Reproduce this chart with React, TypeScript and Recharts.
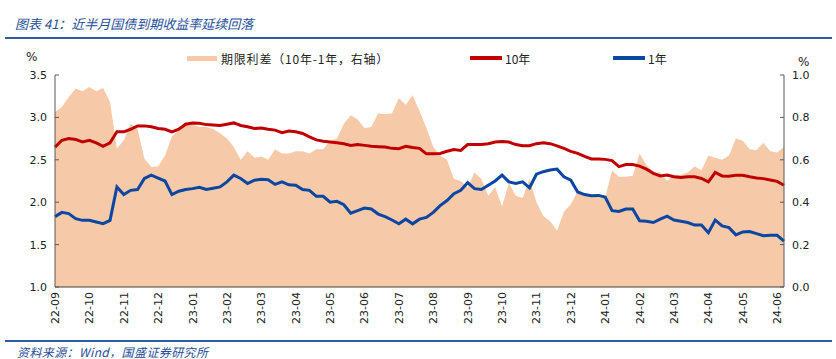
import React from "react"
import { ComposedChart, Area, Line, XAxis, YAxis } from "recharts"

// x tick labels, one per month start
const months = [
  "22-09", "22-10", "22-11", "22-12", "23-01", "23-02", "23-03", "23-04",
  "23-05", "23-06", "23-07", "23-08", "23-09", "23-10", "23-11", "23-12",
  "24-01", "24-02", "24-03", "24-04", "24-05", "24-06",
]

// samples every ~6 days (0.2 month) from 2022-09 onward
const STEP = 0.2

const y10 = [
  2.65, 2.73, 2.75, 2.74, 2.71, 2.73, 2.70, 2.66, 2.70, 2.83,
  2.83, 2.86, 2.90, 2.90, 2.89, 2.87, 2.86, 2.83, 2.86, 2.92,
  2.935, 2.93, 2.915, 2.91, 2.905, 2.92, 2.935, 2.905, 2.89, 2.87,
  2.875, 2.86, 2.85, 2.82, 2.84, 2.83, 2.81, 2.77, 2.735, 2.72,
  2.71, 2.70, 2.69, 2.67, 2.68, 2.67, 2.66, 2.655, 2.65, 2.635,
  2.63, 2.66, 2.645, 2.635, 2.57, 2.57, 2.575, 2.60, 2.62, 2.61,
  2.68, 2.68, 2.68, 2.69, 2.71, 2.715, 2.71, 2.68, 2.665, 2.665,
  2.69, 2.70, 2.69, 2.665, 2.635, 2.60, 2.575, 2.54, 2.51, 2.51,
  2.505, 2.49, 2.42, 2.445, 2.445, 2.425, 2.39, 2.34, 2.31, 2.32,
  2.30, 2.29, 2.30, 2.30, 2.28, 2.24, 2.35, 2.31, 2.305, 2.317,
  2.317, 2.30, 2.285, 2.278, 2.262, 2.246, 2.20,
]

const y1 = [
  1.83, 1.88, 1.865, 1.806, 1.786, 1.786, 1.767, 1.747, 1.786, 2.18,
  2.09, 2.14, 2.15, 2.28, 2.32, 2.285, 2.25, 2.09, 2.13, 2.15,
  2.16, 2.175, 2.15, 2.165, 2.18, 2.24, 2.32, 2.28, 2.22, 2.26,
  2.27, 2.265, 2.21, 2.24, 2.205, 2.20, 2.15, 2.14, 2.07, 2.07,
  2.00, 2.01, 1.97, 1.87, 1.90, 1.93, 1.92, 1.86, 1.83, 1.79,
  1.745, 1.80, 1.745, 1.80, 1.82, 1.88, 1.96, 2.02, 2.10, 2.14,
  2.23, 2.16, 2.15, 2.20, 2.25, 2.32, 2.24, 2.22, 2.24, 2.17,
  2.33, 2.36, 2.38, 2.39, 2.30, 2.26, 2.12, 2.09, 2.075, 2.08,
  2.06, 1.90, 1.89, 1.92, 1.92, 1.78, 1.775, 1.76, 1.80, 1.835,
  1.79, 1.775, 1.76, 1.73, 1.73, 1.64, 1.79, 1.72, 1.70, 1.615,
  1.65, 1.655, 1.63, 1.605, 1.61, 1.61, 1.54,
]

// 期限利差 (right axis)
const spread = [
  0.825, 0.849, 0.896, 0.935, 0.923, 0.943, 0.923, 0.939, 0.873, 0.653,
  0.692, 0.77, 0.747, 0.605, 0.566, 0.57, 0.62, 0.71, 0.74, 0.78,
  0.765, 0.755, 0.755, 0.745, 0.725, 0.70, 0.66, 0.60, 0.64, 0.61,
  0.615, 0.60, 0.65, 0.63, 0.63, 0.64, 0.64, 0.63, 0.65, 0.65,
  0.69, 0.70, 0.77, 0.81, 0.79, 0.75, 0.755, 0.82, 0.815, 0.82,
  0.89, 0.86, 0.905, 0.83, 0.75, 0.66, 0.62, 0.60, 0.51, 0.50,
  0.47, 0.54, 0.51, 0.43, 0.47, 0.38, 0.49, 0.43, 0.42, 0.51,
  0.40, 0.335, 0.31, 0.265, 0.355, 0.39, 0.45, 0.44, 0.425, 0.425,
  0.42, 0.55, 0.52, 0.52, 0.525, 0.63, 0.575, 0.54, 0.54, 0.50,
  0.53, 0.53, 0.54, 0.57, 0.55, 0.62, 0.61, 0.60, 0.62, 0.70,
  0.69, 0.65, 0.645, 0.68, 0.64, 0.635, 0.66,
]

const leftTicks = [1.0, 1.5, 2.0, 2.5, 3.0, 3.5]
const rightTicks = [0, 0.1, 0.2, 0.3, 0.4, 0.5, 0.6, 0.7, 0.8, 0.9, 1.0]

const data = y10.map((v, i) => ({
  t: +(i * STEP).toFixed(2),
  y10: v,
  y1: y1[i],
  spread: spread[i],
}))

const RED = "#C00000"
const BLUE = "#0B47A1"
const PEACH = "#F6C9A9"
const NAVY = "#1F4E9A"
const AXIS = "#595959"
const NUM_FONT = "'DejaVu Sans', Verdana, sans-serif"
const CJK_FONT = "'Noto Sans CJK SC', sans-serif"

const LeftTick = (p: any) => (
  <g>
    <line x1={p.x + 8} x2={p.x + 12} y1={p.y} y2={p.y} stroke={AXIS} />
    <text x={p.x} y={p.y} dy={4} textAnchor="end" fontSize={11} fill="#222" fontFamily={NUM_FONT}>
      {Number(p.payload.value).toFixed(1)}
    </text>
  </g>
)

const RightTick = (p: any) => (
  <g>
    <line x1={p.x - 8} x2={p.x - 12} y1={p.y} y2={p.y} stroke={AXIS} />
    <text x={p.x} y={p.y} dy={4} textAnchor="start" fontSize={11} fill="#222" fontFamily={NUM_FONT}>
      {Number(p.payload.value).toFixed(1)}
    </text>
  </g>
)

const MonthTick = (p: any) => (
  <text
    x={p.x}
    y={p.y}
    dy={4}
    transform={`rotate(-90 ${p.x} ${p.y})`}
    textAnchor="end"
    fontSize={11}
    fill="#222"
    fontFamily={NUM_FONT}
  >
    {months[Math.round(p.payload.value)]}
  </text>
)

export default function App() {
  return (
    <div
      style={{
        position: "absolute",
        left: 0,
        top: 0,
        width: 836,
        height: 359,
        background: "#fff",
        overflow: "hidden",
      }}
    >
      {/* title */}
      <div
        style={{
          position: "absolute",
          left: 15,
          top: 14,
          fontSize: 13,
          fontStyle: "italic",
          color: NAVY,
          fontFamily: CJK_FONT,
          whiteSpace: "nowrap",
        }}
      >
        图表 41：近半月国债到期收益率延续回落
      </div>
      <div style={{ position: "absolute", left: 5, top: 37, width: 827, height: 2, background: "#2E5CA8" }} />

      <ComposedChart
        width={836}
        height={359}
        data={data}
        margin={{ top: 75, right: 10, bottom: 12, left: 10 }}
      >
        <XAxis
          dataKey="t"
          type="number"
          domain={[0, 21.2]}
          ticks={months.map((_, i) => i)}
          interval={0}
          height={60}
          tickSize={0}
          tickMargin={5}
          tick={<MonthTick />}
          axisLine={{ stroke: "#404040" }}
        />
        <YAxis
          yAxisId="left"
          orientation="left"
          domain={[1.0, 3.5]}
          ticks={leftTicks}
          width={45}
          tickSize={0}
          tickMargin={8}
          tick={<LeftTick />}
          axisLine={{ stroke: AXIS }}
        />
        <YAxis
          yAxisId="right"
          orientation="right"
          domain={[0, 1]}
          ticks={rightTicks}
          width={42}
          tickSize={0}
          tickMargin={8}
          tick={<RightTick />}
          axisLine={{ stroke: AXIS }}
        />
        <Area
          yAxisId="right"
          dataKey="spread"
          type="linear"
          stroke="none"
          fill={PEACH}
          fillOpacity={1}
          isAnimationActive={false}
        />
        <Line
          yAxisId="left"
          dataKey="y10"
          type="linear"
          stroke={RED}
          strokeWidth={3}
          dot={false}
          isAnimationActive={false}
        />
        <Line
          yAxisId="left"
          dataKey="y1"
          type="linear"
          stroke={BLUE}
          strokeWidth={3}
          dot={false}
          isAnimationActive={false}
        />
      </ComposedChart>

      {/* unit labels */}
      <div style={{ position: "absolute", left: 26, top: 50, fontSize: 12, fontFamily: NUM_FONT, color: "#222" }}>%</div>
      <div style={{ position: "absolute", left: 798, top: 55, fontSize: 12, fontFamily: NUM_FONT, color: "#222" }}>%</div>

      {/* legend */}
      <div style={{ position: "absolute", left: 187, top: 56, width: 30, height: 5, background: PEACH }} />
      <div style={{ position: "absolute", left: 221, top: 50, fontSize: 12, letterSpacing: 0.8, fontFamily: CJK_FONT, color: "#222", whiteSpace: "nowrap" }}>
        期限利差（10年-1年，右轴）
      </div>
      <div style={{ position: "absolute", left: 470, top: 56, width: 32, height: 4, background: RED }} />
      <div style={{ position: "absolute", left: 505, top: 50, fontSize: 12, fontFamily: CJK_FONT, color: "#222" }}>10年</div>
      <div style={{ position: "absolute", left: 613, top: 56, width: 32, height: 4, background: BLUE }} />
      <div style={{ position: "absolute", left: 648, top: 50, fontSize: 12, fontFamily: CJK_FONT, color: "#222" }}>1年</div>

      {/* source */}
      <div style={{ position: "absolute", left: 5, top: 340, width: 827, height: 2, background: "#2E5CA8" }} />
      <div
        style={{
          position: "absolute",
          left: 17,
          top: 343,
          fontSize: 12,
          letterSpacing: 0.4,
          fontStyle: "italic",
          color: NAVY,
          fontFamily: CJK_FONT,
          whiteSpace: "nowrap",
        }}
      >
        资料来源：Wind，国盛证券研究所
      </div>
    </div>
  )
}
